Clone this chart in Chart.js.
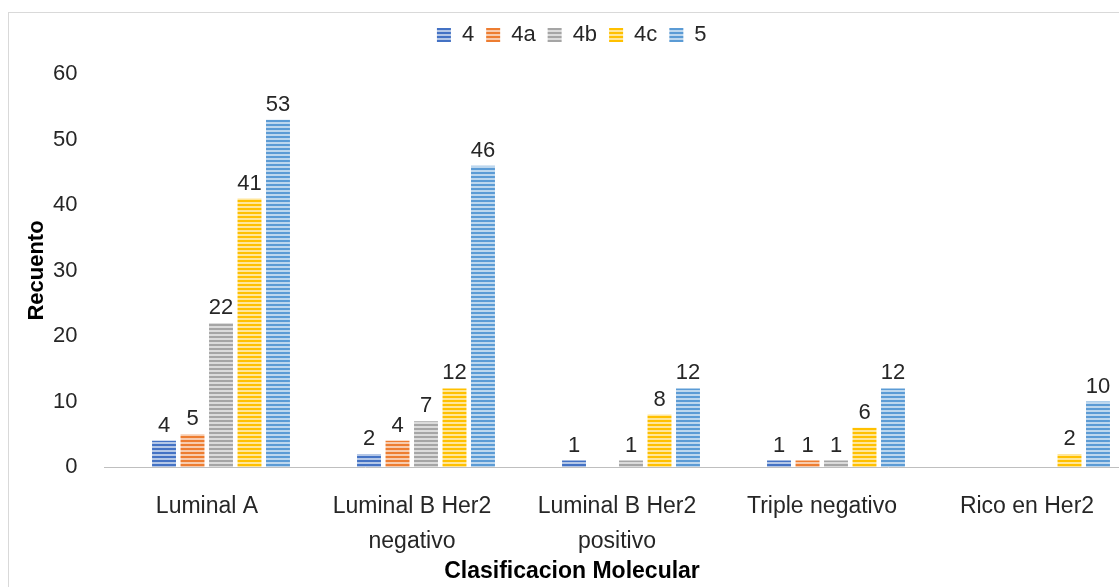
<!DOCTYPE html>
<html>
<head>
<meta charset="utf-8">
<script src="https://cdn.jsdelivr.net/npm/chart.js@4.4.1/dist/chart.umd.min.js"></script>
<style>
  body { margin: 0; background: #fff; overflow: hidden; }
  #wrap { width: 1119px; height: 587px; position: relative; overflow: hidden; }
</style>
</head>
<body>
<div id="wrap"><canvas id="myChart" width="1150" height="587"></canvas></div>
<script>
// data
var categories = [['Luminal A'], ['Luminal B Her2', 'negativo'], ['Luminal B Her2', 'positivo'], ['Triple negativo'], ['Rico en Her2']];
var series_names = ['4', '4a', '4b', '4c', '5'];
var vals_4 = [4, 2, 1, 1, null];
var vals_4a = [5, 4, null, 1, null];
var vals_4b = [22, 7, 1, 1, null];
var vals_4c = [41, 12, 8, 6, 2];
var vals_5 = [53, 46, 12, 12, 10];
var y_ticks = [0, 10, 20, 30, 40, 50, 60];

var FONT = "'Liberation Sans', 'DejaVu Sans', sans-serif";
var TEXT = '#262626';

// horizontal stripes like the excel pattern fill
function stripes(dark, light) {
  var cv = document.createElement('canvas');
  cv.width = 8; cv.height = 4;
  var c = cv.getContext('2d');
  c.fillStyle = light;
  c.fillRect(0, 0, 8, 4);
  c.fillStyle = dark;
  c.fillRect(0, 0, 8, 2);
  return c.createPattern(cv, 'repeat');
}

var colors = [
  stripes('#4472C4', '#b4c7e7'),
  stripes('#ED7D31', '#f8cbad'),
  stripes('#A5A5A5', '#dbdbdb'),
  stripes('#FFC000', '#ffe699'),
  stripes('#5B9BD5', '#bdd7ee')
];
var all_vals = [vals_4, vals_4a, vals_4b, vals_4c, vals_5];

var datasets = [];
for (var i = 0; i < series_names.length; ++i) {
  datasets.push({
    label: series_names[i],
    data: all_vals[i],
    backgroundColor: colors[i],
    borderWidth: 0,
    categoryPercentage: 0.695,
    barPercentage: 0.84
  });
}

// chart frame + x axis line + x axis title
var frame = {
  id: 'frame',
  beforeDraw: function(chart) {
    var ctx = chart.ctx;
    ctx.save();
    ctx.strokeStyle = '#d9d9d9';
    ctx.lineWidth = 1;
    ctx.strokeRect(8.5, 12.5, 1300, 700);
    var y0 = Math.round(chart.scales.y.getPixelForValue(0)) + 0.5;
    ctx.strokeStyle = '#bfbfbf';
    ctx.beginPath();
    ctx.moveTo(104, y0);
    ctx.lineTo(chart.width, y0);
    ctx.stroke();
    ctx.fillStyle = '#000';
    ctx.font = 'bold 23px ' + FONT;
    ctx.textAlign = 'center';
    ctx.textBaseline = 'middle';
    ctx.fillText('Clasificacion Molecular', 572, 572);
    ctx.restore();
  }
};

var valueLabels = {
  id: 'valueLabels',
  afterDatasetsDraw: function(chart) {
    var ctx = chart.ctx;
    ctx.save();
    ctx.font = '22px ' + FONT;
    ctx.fillStyle = TEXT;
    ctx.textAlign = 'center';
    ctx.textBaseline = 'bottom';
    chart.data.datasets.forEach(function(ds, di) {
      var meta = chart.getDatasetMeta(di);
      meta.data.forEach(function(el, j) {
        var v = ds.data[j];
        if (v === null || v === undefined) return;
        ctx.fillText(String(v), el.x, el.y - 4);
      });
    });
    ctx.restore();
  }
};

var ctx = document.getElementById('myChart');
var myBarChart = new Chart(ctx, {
  type: 'bar',
  data: { labels: categories, datasets: datasets },
  plugins: [frame, valueLabels],
  options: {
    responsive: false,
    animation: false,
    layout: { padding: { left: 0, right: 6.5, top: 12, bottom: 0 } },
    plugins: {
      tooltip: { enabled: false },
      legend: {
        position: 'top',
        labels: { font: { family: FONT, size: 22 }, color: TEXT, boxWidth: 14, boxHeight: 14, padding: 12 }
      },
      // empty spacer between legend and plot
      subtitle: { display: true, text: ' ', weight: 500, font: { size: 5 }, padding: { top: 1, bottom: 11 } }
    },
    scales: {
      x: {
        grid: { display: false },
        border: { display: false },
        afterFit: function(axis) { axis.height = 120; },
        ticks: { font: { family: FONT, size: 23, lineHeight: 1.53 }, color: TEXT, maxRotation: 0, padding: 14, labelOffset: -14 }
      },
      y: {
        min: 0, max: 60,
        afterBuildTicks: function(axis) { axis.ticks = y_ticks.map(function(v) { return { value: v }; }); },
        afterFit: function(axis) { axis.width = 118.5; },
        grid: { display: false },
        border: { display: false },
        ticks: { font: { family: FONT, size: 22 }, color: TEXT, padding: 33 },
        title: { display: true, text: 'Recuento', font: { family: FONT, size: 22, weight: 'bold' }, color: '#000', padding: { top: 24, bottom: 0 } }
      }
    }
  }
});
</script>
</body>
</html>
